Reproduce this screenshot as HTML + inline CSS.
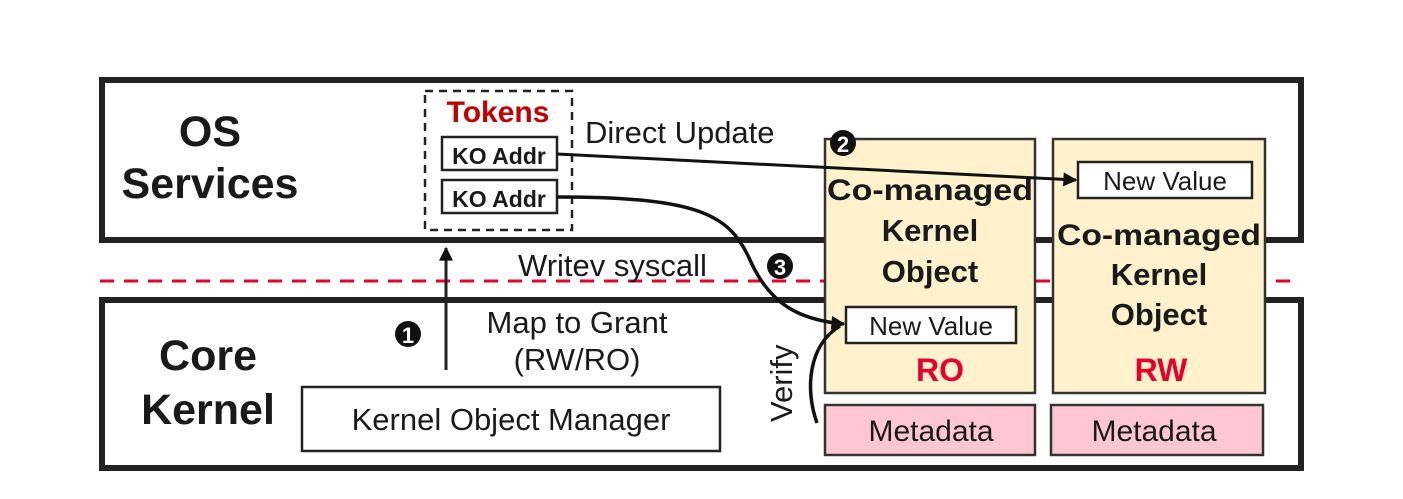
<!DOCTYPE html>
<html><head><meta charset="utf-8"><style>body{margin:0;background:#fff}svg{display:block}text{font-family:"Liberation Sans","DejaVu Sans",sans-serif;fill:#1a1a1a}</style></head><body>
<svg width="1403" height="499" viewBox="0 0 1403 499" xmlns="http://www.w3.org/2000/svg">
<defs>
<marker id="b" viewBox="0 0 10 10" markerWidth="16" markerHeight="14" refX="9" refY="5" orient="auto" markerUnits="userSpaceOnUse"><path d="M0,0 L10,5 L0,10z" fill="#111"/></marker></defs>
<rect x="102" y="80" width="1199" height="160" fill="none" stroke="#222" stroke-width="6"/>
<rect x="102" y="300" width="1199" height="168" fill="none" stroke="#222" stroke-width="6"/>
<line x1="100" y1="281" x2="1290" y2="281" stroke="#e8002d" stroke-width="3" stroke-dasharray="14,10"/>
<text x="210" y="146" font-size="43" font-weight="bold" text-anchor="middle">OS</text>
<text x="210" y="198" font-size="43" font-weight="bold" text-anchor="middle">Services</text>
<text x="208" y="370" font-size="43" font-weight="bold" text-anchor="middle">Core</text>
<text x="208" y="424" font-size="43" font-weight="bold" text-anchor="middle">Kernel</text>
<rect x="425" y="91" width="147" height="139" fill="#fff" stroke="#222" stroke-width="2.5" stroke-dasharray="8,6"/>
<text x="498" y="122" font-size="30" font-weight="bold" text-anchor="middle" style="fill:#c00000">Tokens</text>
<rect x="442" y="137" width="115" height="33" fill="#fff" stroke="#222" stroke-width="2.5"/>
<text x="499" y="164" font-size="23" font-weight="bold" text-anchor="middle">KO Addr</text>
<rect x="442" y="180" width="115" height="33" fill="#fff" stroke="#222" stroke-width="2.5"/>
<text x="499" y="207" font-size="23" font-weight="bold" text-anchor="middle">KO Addr</text>
<text x="585" y="143" font-size="31">Direct Update</text>
<text x="518" y="276" font-size="31">Writev syscall</text>
<text x="577" y="333" font-size="31" text-anchor="middle">Map to Grant</text>
<text x="577" y="370" font-size="31" text-anchor="middle">(RW/RO)</text>
<circle cx="408" cy="334" r="13" fill="#111"/><text x="408" y="343" font-size="22" font-weight="bold" text-anchor="middle" style="fill:#fff">1</text>
<circle cx="780" cy="266" r="13" fill="#111"/><text x="780" y="275" font-size="22" font-weight="bold" text-anchor="middle" style="fill:#fff">3</text>
<rect x="302" y="387" width="418" height="64" fill="#fff" stroke="#222" stroke-width="2.5"/>
<text x="511" y="430" font-size="31" text-anchor="middle">Kernel Object Manager</text>
<line x1="446" y1="370" x2="446" y2="248" stroke="#222" stroke-width="3" marker-end="url(#b)"/>
<rect x="825" y="139" width="210" height="254" fill="#fff2cc" stroke="#333" stroke-width="2.5"/>
<rect x="1053" y="139" width="212" height="254" fill="#fff2cc" stroke="#333" stroke-width="2.5"/>
<text x="930" y="200" font-size="30" font-weight="bold" text-anchor="middle" textLength="206" lengthAdjust="spacingAndGlyphs">Co-managed</text>
<text x="930" y="241" font-size="31" font-weight="bold" text-anchor="middle">Kernel</text>
<text x="930" y="282" font-size="31" font-weight="bold" text-anchor="middle">Object</text>
<text x="1159" y="245" font-size="30" font-weight="bold" text-anchor="middle" textLength="204" lengthAdjust="spacingAndGlyphs">Co-managed</text>
<text x="1159" y="285" font-size="31" font-weight="bold" text-anchor="middle">Kernel</text>
<text x="1159" y="325" font-size="31" font-weight="bold" text-anchor="middle">Object</text>
<text x="940" y="381" font-size="32" font-weight="bold" text-anchor="middle" style="fill:#e8002d">RO</text>
<text x="1161" y="381" font-size="32" font-weight="bold" text-anchor="middle" style="fill:#e8002d">RW</text>
<rect x="1078" y="162" width="174" height="36" fill="#fff" stroke="#222" stroke-width="2.5"/>
<text x="1165" y="190" font-size="26" text-anchor="middle">New Value</text>
<rect x="846" y="307" width="170" height="36" fill="#fff" stroke="#222" stroke-width="2.5"/>
<text x="931" y="335" font-size="26" text-anchor="middle">New Value</text>
<rect x="825" y="405" width="210" height="50" fill="#ffc7d4" stroke="#333" stroke-width="2.5"/>
<rect x="1051" y="405" width="212" height="50" fill="#ffc7d4" stroke="#333" stroke-width="2.5"/>
<text x="931" y="441" font-size="30" text-anchor="middle">Metadata</text>
<text x="1154" y="441" font-size="30" text-anchor="middle">Metadata</text>
<line x1="557" y1="154" x2="1076" y2="180" stroke="#111" stroke-width="3" marker-end="url(#b)"/>
<path d="M557,197 C700,197 730,215 750,260 C770,305 800,320 844,324" fill="none" stroke="#111" stroke-width="3.5" marker-end="url(#b)"/>
<path d="M817,423 C805,390 808,345 840,326" fill="none" stroke="#111" stroke-width="3.5"/>
<text transform="translate(792,422) rotate(-90)" font-size="31">Verify</text>
<circle cx="843" cy="143" r="13" fill="#111"/><text x="843" y="152" font-size="22" font-weight="bold" text-anchor="middle" style="fill:#fff">2</text>
</svg>
</body></html>
